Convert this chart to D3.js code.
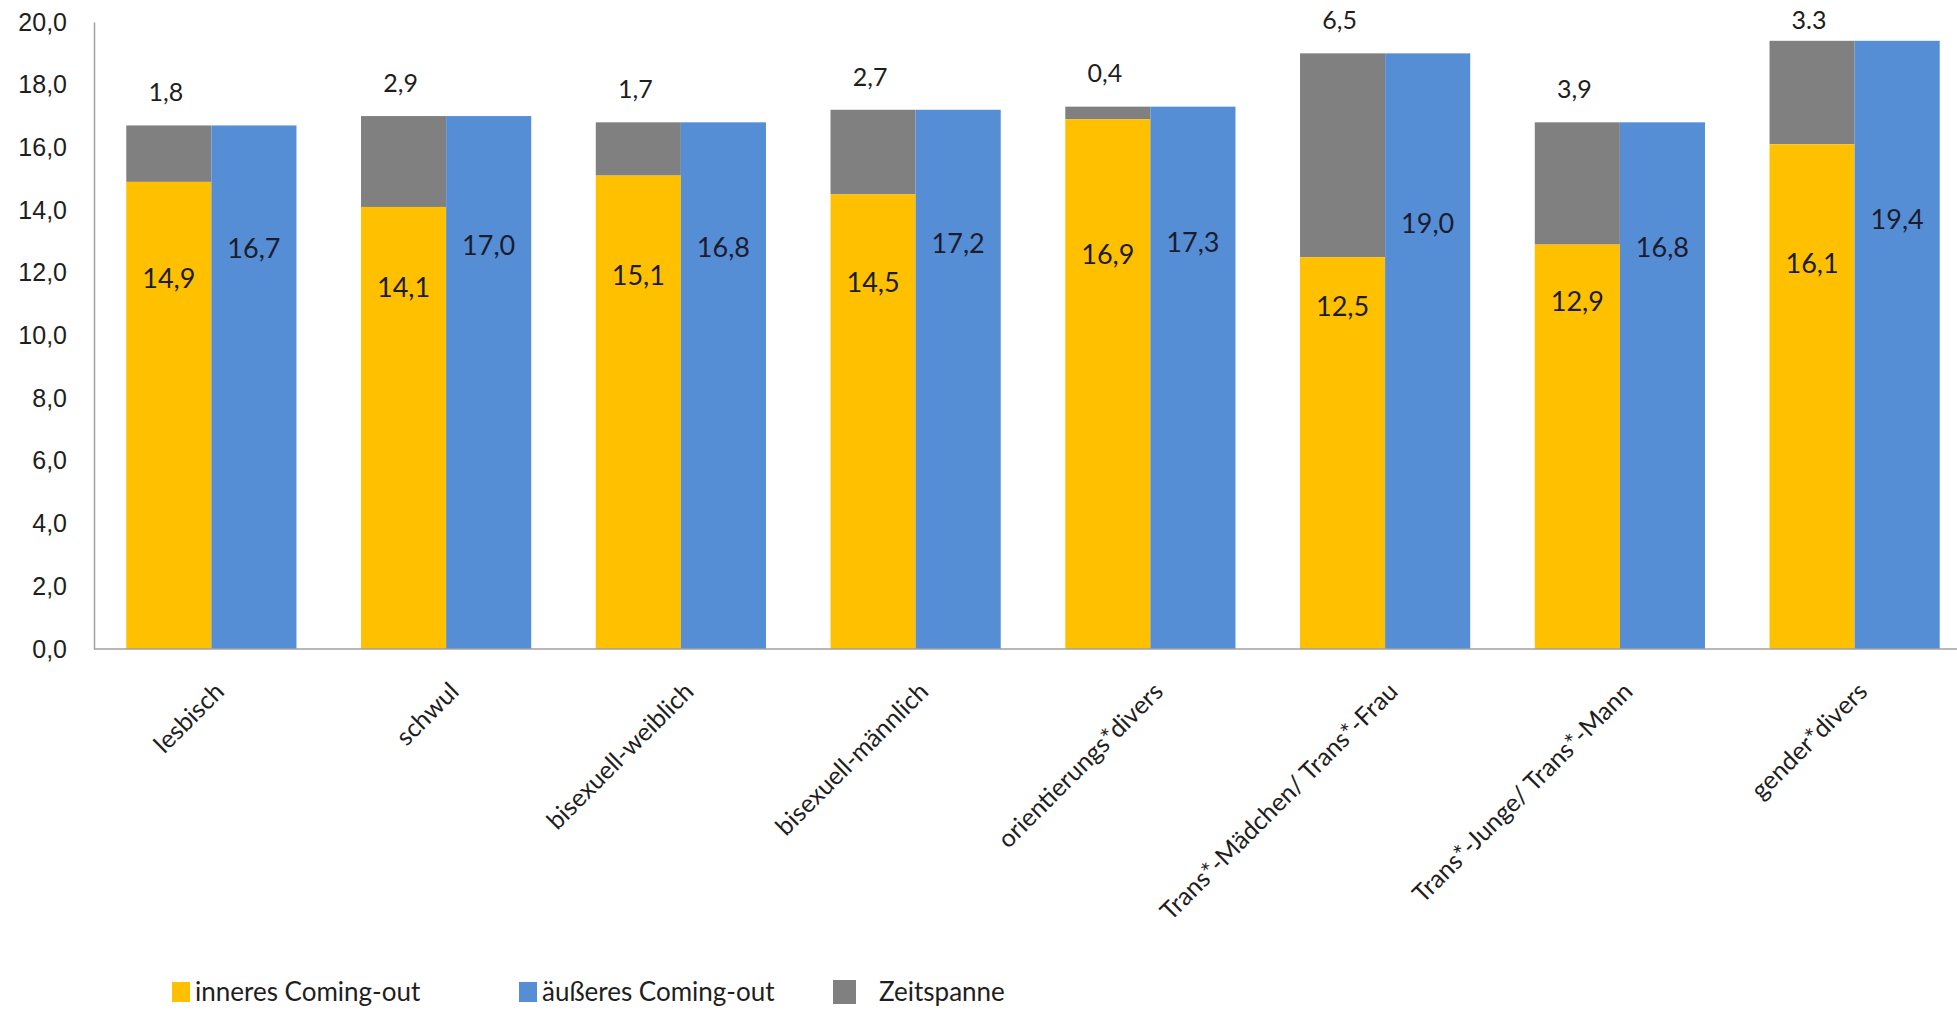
<!DOCTYPE html>
<html>
<head>
<meta charset="utf-8">
<script src="https://cdn.jsdelivr.net/npm/d3@7"></script>
<style>
    html, body { margin: 0; padding: 0; background: #fff; }
    svg { display: block; font-family: Lato, 'Open Sans', sans-serif; }
</style>
</head>
<body>
<div id="chart"></div>
<script>
const categories = ['lesbisch', 'schwul', 'bisexuell-weiblich', 'bisexuell-männlich', 'orientierungs*divers', 'Trans*-Mädchen/ Trans*-Frau', 'Trans*-Junge/ Trans*-Mann', 'gender*divers']
const inneres = [14.9, 14.1, 15.1, 14.5, 16.9, 12.5, 12.9, 16.1]
const aeusseres = [16.7, 17.0, 16.8, 17.2, 17.3, 19.0, 16.8, 19.4]
const zeitspanne = [1.8, 2.9, 1.7, 2.7, 0.4, 6.5, 3.9, 3.3]
const zeitspanneLabels = ['1,8', '2,9', '1,7', '2,7', '0,4', '6,5', '3,9', '3.3']
const yTicks = [0, 2, 4, 6, 8, 10, 12, 14, 16, 18, 20]
const seriesNames = ['inneres Coming-out', 'äußeres Coming-out', 'Zeitspanne']

const width = 1957
const height = 1011
const colors = {inner: '#FFC000', outer: '#558ED5', span: '#808080'}

const svg = d3.select('#chart').append('svg')
    .attr('width', width)
    .attr('height', height)

const x = d3.scaleBand()
    .domain(categories)
    .range([94, 1972])
    .paddingInner(0.275)
    .paddingOuter(0.1375)

const y = d3.scaleLinear()
    .domain([0, 20])
    .range([649, 22])

const fmt = v => d3.format('.1f')(v).replace('.', ',')

// axes
const yAxis = svg.append('g')
    .attr('transform', 'translate(94,0)')
    .call(d3.axisLeft(y).tickValues(yTicks).tickSize(0).tickPadding(27).tickFormat(fmt))
yAxis.select('.domain').attr('stroke', '#a0a0a0').attr('stroke-width', 1.5)
yAxis.selectAll('text').attr('font-size', 25).attr('fill', '#1e1e1e')

const rows = categories.map((c, i) => ({cat: c, inner: inneres[i], outer: aeusseres[i], span: zeitspanne[i], spanLabel: zeitspanneLabels[i]}))
const half = x.bandwidth() / 2

const groups = svg.append('g').selectAll('g')
    .data(rows)
    .join('g')
    .attr('transform', d => 'translate(' + x(d.cat) + ',0)')

groups.append('rect')
    .attr('x', 0)
    .attr('width', half)
    .attr('y', d => y(d.inner + d.span))
    .attr('height', d => y(d.inner) - y(d.inner + d.span))
    .attr('fill', colors.span)

groups.append('rect')
    .attr('x', 0)
    .attr('width', half)
    .attr('y', d => y(d.inner))
    .attr('height', d => y(0) - y(d.inner))
    .attr('fill', colors.inner)

groups.append('rect')
    .attr('x', half)
    .attr('width', half)
    .attr('y', d => y(d.outer))
    .attr('height', d => y(0) - y(d.outer))
    .attr('fill', colors.outer)

// value labels sit part way down the bars
const innerLevel = v => 0.382 * v + 6.14
const outerLevel = v => 0.35 * v + 6.92
groups.append('text')
    .attr('x', half / 2)
    .attr('y', d => y(innerLevel(d.inner)))
    .attr('dy', '0.35em')
    .attr('text-anchor', 'middle')
    .attr('font-size', 27)
    .attr('fill', '#1c1c30')
    .text(d => fmt(d.inner))

groups.append('text')
    .attr('x', half * 1.5)
    .attr('y', d => y(outerLevel(d.outer)))
    .attr('dy', '0.35em')
    .attr('text-anchor', 'middle')
    .attr('font-size', 27)
    .attr('fill', '#1c1c30')
    .text(d => fmt(d.outer))

groups.append('text')
    .attr('x', half / 2 - 3)
    .attr('y', d => Math.max(20, y(d.inner + d.span) - 33))
    .attr('dy', '0.35em')
    .attr('text-anchor', 'middle')
    .attr('font-size', 25)
    .attr('fill', '#1e1e1e')
    .text(d => d.spanLabel)

// baseline
svg.append('line')
    .attr('x1', 94).attr('x2', width)
    .attr('y1', y(0)).attr('y2', y(0))
    .attr('stroke', '#a0a0a0')
    .attr('stroke-width', 1.5)

// category labels
svg.append('g').selectAll('text')
    .data(categories)
    .join('text')
    .attr('transform', d => 'translate(' + (x(d) + half + 8) + ',' + (y(0) + 38) + ') rotate(-45)')
    .attr('text-anchor', 'end')
    .attr('dy', '0.35em')
    .attr('font-size', 25)
    .attr('fill', '#1e1e1e')
    .text(d => d)

// legend
const legendItems = [
    {name: seriesNames[0], color: colors.inner, x: 172, w: 18, h: 20},
    {name: seriesNames[1], color: colors.outer, x: 519, w: 18, h: 20},
    {name: seriesNames[2], color: colors.span, x: 833, w: 23, h: 24}
]
const legend = svg.append('g')
    .selectAll('g')
    .data(legendItems)
    .join('g')
    .attr('transform', d => 'translate(' + d.x + ',992)')
legend.append('rect')
    .attr('x', 0)
    .attr('y', d => -d.h / 2)
    .attr('width', d => d.w)
    .attr('height', d => d.h)
    .attr('fill', d => d.color)
legend.append('text')
    .attr('x', (d, i) => i == 2 ? 46 : 23)
    .attr('dy', '0.35em')
    .attr('font-size', 26)
    .attr('fill', '#1e1e1e')
    .text(d => d.name)
</script>
</body>
</html>
